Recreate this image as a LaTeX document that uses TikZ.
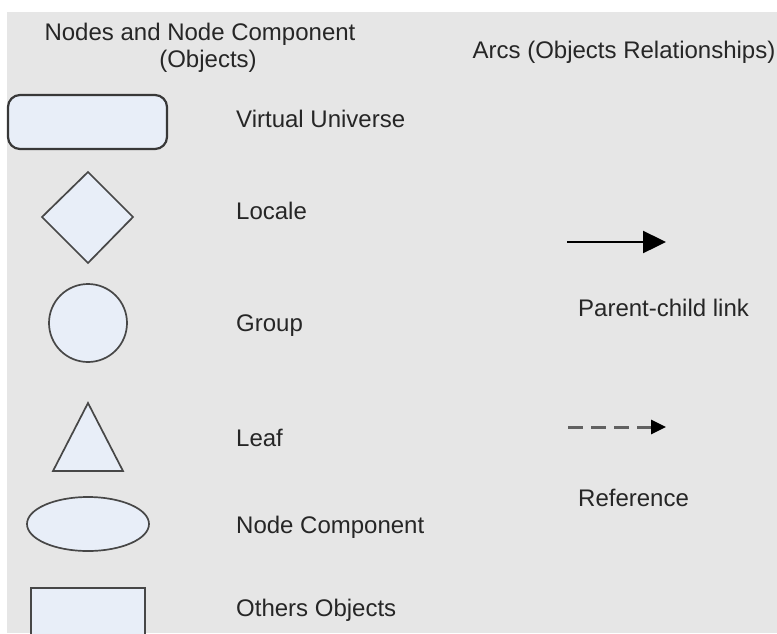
\documentclass[tikz,border=0pt]{standalone}
\usepackage{fontspec}
\setmainfont{Liberation Sans}
\usetikzlibrary{arrows.meta,shapes.geometric}
\definecolor{panel}{HTML}{E6E6E6}
\definecolor{shapefill}{HTML}{E8EEF8}
\definecolor{shapeline}{HTML}{474747}
\definecolor{labeltext}{HTML}{262626}
\tikzset{
  legendshape/.style={draw=shapeline, fill=shapefill, line width=1.7pt},
  legendlabel/.style={anchor=base west, inner sep=0pt, text=labeltext,
                      font=\fontsize{24}{28}\selectfont},
  headline/.style={anchor=base, inner sep=0pt, text=labeltext,
                   font=\fontsize{24}{28}\selectfont},
}
\begin{document}
\begin{tikzpicture}[x=1pt, y=-1pt]
  \useasboundingbox (0,0) rectangle (777,633);
  \fill[white] (0,0) rectangle (777,633);
  \fill[panel] (7,12) rectangle (777,633);

  % column headings
  \node[headline] (h1a) at (200,40) {Nodes and Node Component};
  \node[headline] (h1b) at (208,67) {(Objects)};
  \node[headline] (h2)  at (624,58) {Arcs (Objects Relationships)};

  % node symbols
  \draw[legendshape, draw=black!78, line width=2.2pt, rounded corners=12pt]
    (8,95) rectangle (167,149);
  \draw[legendshape] (88,172) -- (133,217) -- (88,263) -- (42,217) -- cycle;
  \draw[legendshape] (88,323) circle[radius=39];
  \draw[legendshape] (88,403) -- (123,471) -- (53,471) -- cycle;
  \draw[legendshape] (88,524) ellipse[x radius=61, y radius=27];
  \draw[legendshape] (145,640) -- (145,588) -- (31,588) -- (31,640);

  % node labels
  \node[legendlabel] (vu)  at (236,127) {Virtual Universe};
  \node[legendlabel] (loc) at (236,219) {Locale};
  \node[legendlabel] (grp) at (236,331) {Group};
  \node[legendlabel] (lf)  at (236,446) {Leaf};
  \node[legendlabel] (nc)  at (236,533) {Node Component};
  \node[legendlabel] (oo)  at (236,616) {Others Objects};

  % arc symbols
  \coordinate (pcA) at (567,242);
  \coordinate (pcB) at (666,242);
  \draw[line width=2.4pt, black, -{Triangle[length=23pt, width=22pt]}] (pcA) -- (pcB);
  \node[legendlabel] (pcl) at (578,316) {Parent-child link};

  \coordinate (rfA) at (568,427);
  \coordinate (rfB) at (666,427);
  \draw[line width=3pt, black!62, dash pattern=on 15pt off 8pt,
        -{Triangle[length=15pt, width=14pt, color=black, fill=black]}] (rfA) -- (rfB);
  \node[legendlabel] (rfl) at (578,506) {Reference};
\end{tikzpicture}
\end{document}
